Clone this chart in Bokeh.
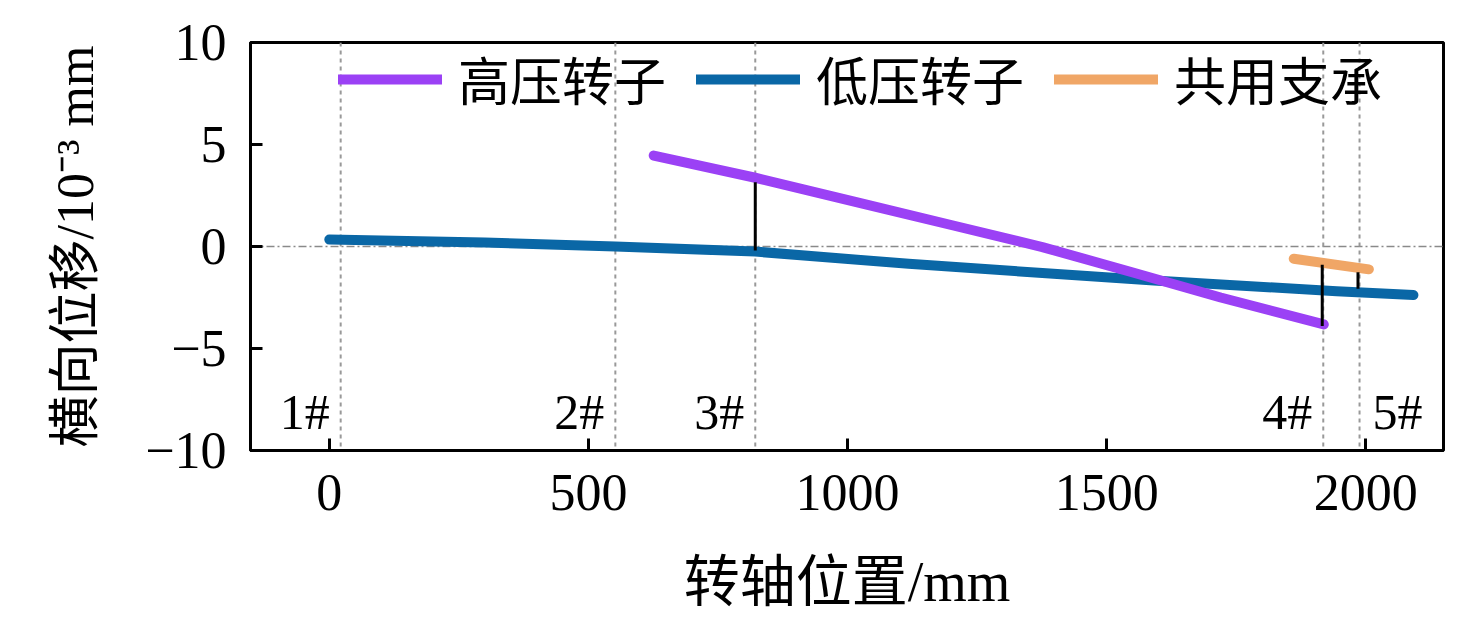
from bokeh.plotting import figure
from bokeh.models import Range1d, Span, Legend, LegendItem, FixedTicker
from bokeh.core.properties import value
from bokeh.embed import file_html
from bokeh.resources import INLINE

# ---- data ----
hp_x = [626, 822, 1031, 1204, 1376, 1549, 1720, 1919]
hp_y = [4.46, 3.37, 2.09, 1.03, -0.03, -1.26, -2.5, -3.82]

lp_x = [0, 300, 552, 822, 1118, 1376, 1591, 1944, 2092]
lp_y = [0.34, 0.2, 0.0, -0.25, -0.85, -1.3, -1.67, -2.19, -2.38]

sb_x = [1861, 2006]
sb_y = [-0.6, -1.12]

bearing_x = [22, 552, 822, 1918, 1988]
bearing_labels = ["1#", "2#", "3#", "4#", "5#"]
label_y = -8.1

seg_x = [822, 1916, 1985]
seg_top = [3.15, -0.9, -1.26]
seg_bot = [-0.2, -3.9, -2.07]

x_ticks = [0, 500, 1000, 1500, 2000]
y_ticks = [-10, -5, 0, 5, 10]

# ---- figure ----
NUM_FONT = "Liberation Serif"
MIX_FONT = "'Liberation Serif', 'Noto Sans CJK SC'"

p = figure(width=1460, height=615, output_backend="svg", toolbar_location=None,
           x_range=Range1d(-152, 2150), y_range=Range1d(-10, 10),
           min_border_left=250, min_border_right=17, min_border_top=42,
           min_border_bottom=165)

p.background_fill_color = "white"
p.border_fill_color = "white"
p.outline_line_color = "black"
p.outline_line_width = 3
p.xgrid.visible = False
p.ygrid.visible = False

for ax in (p.xaxis[0], p.yaxis[0]):
    ax.axis_line_width = 3
    ax.axis_line_color = "black"
    ax.major_tick_in = 12
    ax.major_tick_out = 0
    ax.major_tick_line_width = 3
    ax.minor_tick_in = 0
    ax.minor_tick_out = 0
    ax.major_label_text_font = NUM_FONT
    ax.major_label_text_font_size = "52px"
    ax.major_label_text_color = "black"
    ax.axis_label_text_font = MIX_FONT
    ax.axis_label_text_font_style = "normal"
    ax.axis_label_text_color = "black"

p.xaxis.axis_label_text_font_size = "56px"
p.yaxis.axis_label_text_font_size = "52px"
p.xaxis.ticker = FixedTicker(ticks=x_ticks, minor_ticks=[])
p.yaxis.ticker = FixedTicker(ticks=y_ticks, minor_ticks=[])
p.yaxis.major_label_overrides = {t: (str(t).replace("-", "\u2212")) for t in y_ticks}
p.xaxis.major_label_standoff = 24
p.yaxis.major_label_standoff = 24
p.xaxis.axis_label = "转轴位置/mm"
p.yaxis.axis_label = "横向位移/10\u207b\u00b3 mm"
p.xaxis.axis_label_standoff = 38
p.yaxis.axis_label_standoff = 38

# reference lines
p.add_layout(Span(location=0, dimension="width", line_color="#8a8a8a",
                  line_dash="8 3 2 3", line_width=1.5, level="underlay"))
for b in bearing_x:
    p.add_layout(Span(location=b, dimension="height", line_color="#999999",
                      line_dash="4 4", line_width=2, level="underlay"))

# data lines
r_lp = p.line(lp_x, lp_y, line_color="#0a67a6", line_width=10, line_cap="round", line_join="round")
r_hp = p.line(hp_x, hp_y, line_color="#9b41f5", line_width=10, line_cap="round", line_join="round")
r_sb = p.line(sb_x, sb_y, line_color="#f0a666", line_width=10, line_cap="round", line_join="round")

p.segment(x0=seg_x, y0=seg_top, x1=seg_x, y1=seg_bot, line_color="black", line_width=3)

# bearing labels
p.text(x=bearing_x[:4], y=[label_y] * 4, text=bearing_labels[:4],
       text_font=value(NUM_FONT), text_font_size="50px", text_align="right",
       text_baseline="alphabetic", x_offset=-11, text_color="black")
p.text(x=bearing_x[4:], y=[label_y], text=bearing_labels[4:],
       text_font=value(NUM_FONT), text_font_size="50px", text_align="left",
       text_baseline="alphabetic", x_offset=13, text_color="black")

legend = Legend(items=[LegendItem(label="高压转子", renderers=[r_hp]),
                       LegendItem(label="低压转子", renderers=[r_lp]),
                       LegendItem(label="共用支承", renderers=[r_sb])],
                orientation="horizontal", location=(88, 334),
                label_text_font=MIX_FONT, label_text_font_size="52px",
                label_text_color="black",
                label_height=60, glyph_width=104, glyph_height=20,
                label_standoff=16, spacing=30,
                padding=0, margin=0, border_line_alpha=0, background_fill_alpha=0)
p.add_layout(legend)

open("out.html", "w").write(file_html(p, INLINE))
